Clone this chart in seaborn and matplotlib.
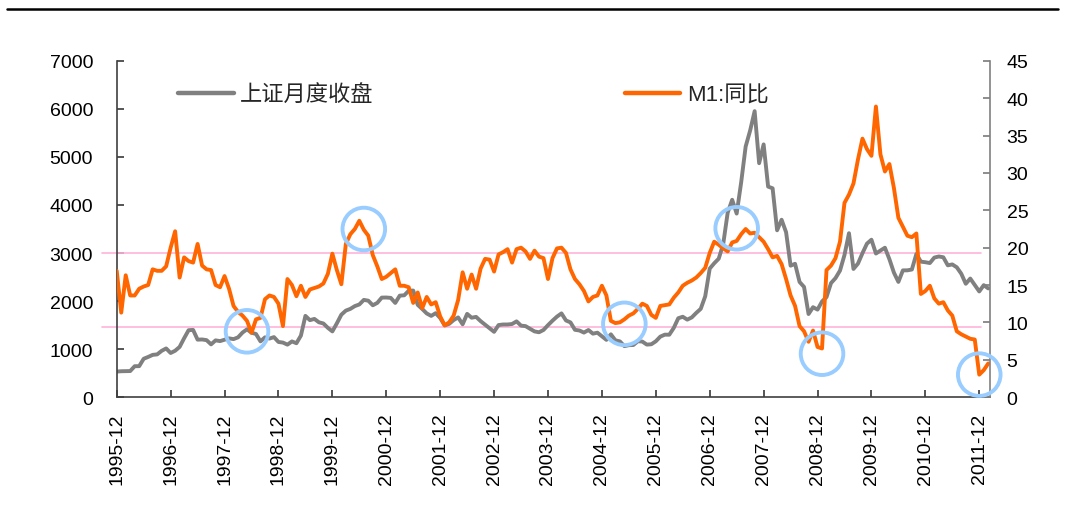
import matplotlib
matplotlib.use('Agg')
import matplotlib.pyplot as plt
from matplotlib.lines import Line2D
import numpy as np
import pandas as pd
import seaborn as sns

# mesi 1995-12 .. 2012-02
months = pd.period_range('1995-12', '2012-02', freq='M').strftime('%Y-%m').tolist()

# Shanghai composite, chiusura mensile (asse sinistro)
sh_close = [
    530,
    537, 538, 541, 642, 643, 797, 835, 878, 888, 962, 1012, 917,
    964, 1044, 1224, 1392, 1398, 1195, 1199, 1185, 1097, 1180, 1165, 1194,
    1222, 1206, 1243, 1343, 1411, 1339, 1313, 1159, 1243, 1218, 1248, 1147,
    1134, 1091, 1158, 1121, 1280, 1690, 1601, 1627, 1557, 1532, 1441, 1367,
    1535, 1715, 1800, 1836, 1894, 1928, 2023, 2007, 1911, 1961, 2071, 2073,
    2065, 1960, 2112, 2119, 2214, 2218, 1920, 1834, 1741, 1690, 1747, 1646,
    1491, 1524, 1603, 1658, 1515, 1732, 1652, 1669, 1581, 1507, 1434, 1358,
    1499, 1511, 1511, 1521, 1576, 1487, 1477, 1421, 1367, 1349, 1397, 1497,
    1590, 1675, 1742, 1595, 1555, 1400, 1386, 1342, 1396, 1320, 1340, 1266,
    1191, 1306, 1181, 1159, 1060, 1080, 1083, 1162, 1155, 1092, 1099, 1161,
    1258, 1299, 1298, 1440, 1641, 1672, 1612, 1658, 1752, 1837, 2099, 2675,
    2786, 2881, 3183, 3841, 4109, 3821, 4471, 5218, 5552, 5955, 4871, 5262,
    4383, 4348, 3473, 3693, 3433, 2736, 2775, 2397, 2293, 1729, 1871, 1821,
    1991, 2082, 2373, 2477, 2633, 2959, 3412, 2668, 2779, 2996, 3195, 3277,
    2989, 3051, 3110, 2871, 2592, 2398, 2638, 2639, 2656, 2979, 2820, 2808,
    2791, 2905, 2928, 2911, 2743, 2762, 2702, 2568, 2359, 2468, 2333, 2199,
    2330, 2262,
]

# M1 crescita a/a in % (asse destro)
m1_yoy = [
    16.9,
    11.3, 16.3, 13.6, 13.6, 14.5, 14.8, 15.0, 17.1, 16.9, 16.9, 17.5, 20.0,
    22.2, 16.0, 18.7, 18.2, 18.0, 20.5, 17.6, 17.1, 17.0, 15.0, 14.7, 16.2,
    14.5, 12.2, 11.4, 10.9, 10.2, 8.6, 10.4, 10.6, 13.1, 13.6, 13.4, 12.5,
    9.5, 15.8, 15.0, 13.5, 14.9, 13.4, 14.4, 14.6, 14.8, 15.2, 16.5, 19.2,
    17.0, 15.1, 20.5, 21.8, 22.5, 23.6, 22.4, 21.6, 19.0, 17.5, 15.8, 16.1,
    16.6, 17.1, 14.9, 14.9, 14.7, 12.6, 14.0, 11.9, 13.4, 12.4, 12.7, 10.8,
    9.6, 10.0, 10.9, 13.0, 16.7, 14.5, 16.4, 14.5, 17.2, 18.5, 18.4, 16.8,
    19.1, 19.4, 19.8, 18.0, 19.8, 20.0, 19.5, 18.5, 19.6, 18.8, 18.6, 15.8,
    18.6, 19.9, 20.0, 19.3, 17.1, 15.8, 15.1, 14.2, 12.8, 13.4, 13.6, 14.9,
    13.6, 10.2, 9.9, 10.0, 10.4, 10.9, 11.2, 11.8, 12.5, 12.2, 11.0, 10.6,
    12.2, 12.3, 12.4, 13.3, 14.0, 14.9, 15.3, 15.6, 16.0, 16.6, 17.3, 19.3,
    20.8, 20.4, 19.9, 19.5, 20.7, 20.9, 21.8, 22.5, 21.9, 22.0, 21.4, 20.8,
    19.8, 18.7, 18.9, 17.8, 15.8, 13.6, 12.2, 9.5, 8.8, 7.4, 8.9, 6.7,
    6.5, 17.0, 17.6, 18.6, 20.8, 26.0, 27.1, 28.6, 31.8, 34.6, 33.2, 32.3,
    38.9, 32.5, 30.2, 31.2, 28.0, 24.0, 22.8, 21.6, 21.4, 21.9, 13.8, 14.2,
    14.9, 13.2, 12.5, 12.7, 11.6, 10.9, 8.8, 8.4, 8.1, 7.8, 7.7, 3.0,
    3.6, 4.5,
]

# cerchi di evidenza (mese, livello M1)
circle_months = ['1998-05', '2000-07', '2005-05', '2007-06', '2009-01', '2011-12']
circle_m1 = [8.8, 22.5, 9.8, 22.6, 5.8, 3.0]

# linee guida rosa (asse sinistro)
guide_levels = [3000, 1465]

label_close = '上证月度收盘'
label_m1 = 'M1:同比'

sns.set_theme(style='white')
plt.rcParams['font.family'] = ['Liberation Sans', 'Noto Sans CJK SC']

df = pd.DataFrame({'idx': np.arange(len(months)), 'month': months,
                   'close': sh_close, 'm1': m1_yoy})

fig = plt.figure(figsize=(10.68, 5.06), dpi=100)
ax = fig.add_axes([0.1093, 0.2134, 0.8177, 0.6641])
ax2 = ax.twinx()

for lvl in guide_levels:
    ax.axhline(lvl, xmin=-0.017, xmax=0.99, color='#FFB3D9', lw=1.2, clip_on=False, zorder=1)

sns.lineplot(data=df, x='idx', y='close', ax=ax, color='#808080', linewidth=2.8, legend=False)
sns.lineplot(data=df, x='idx', y='m1', ax=ax2, color='#FF6600', linewidth=2.8, legend=False)

cx = [months.index(m) for m in circle_months]
ax2.scatter(cx, circle_m1, s=940, facecolors='none', edgecolors='#99CCFF',
            linewidths=2.8, clip_on=False, zorder=5)

ax.set_xlim(0, 194.4)
ax.set_ylim(0, 7000)
ax2.set_ylim(0, 45)
ax.set_xticks(range(0, len(months), 12))
ax.set_xticklabels(months[::12], rotation=90)
ax.set_yticks(range(0, 7001, 1000))
ax2.set_yticks(range(0, 46, 5))
ax.set_xlabel('')
ax.set_ylabel('')
ax2.set_ylabel('')

ax.tick_params(axis='x', bottom=True, direction='in', length=5, pad=11, labelsize=14,
               color='#404040', labelcolor='black')
ax.tick_params(axis='y', left=True, direction='in', length=5, pad=17, labelsize=14,
               color='#404040', labelcolor='black')
ax2.tick_params(axis='y', right=True, direction='in', length=5, pad=12, labelsize=14,
                color='#808080', labelcolor='black')

for s in ['top', 'right']:
    ax.spines[s].set_visible(False)
for s in ['top', 'left', 'bottom']:
    ax2.spines[s].set_visible(False)
ax.spines['left'].set_color('#404040')
ax.spines['bottom'].set_color('#404040')
ax2.spines['right'].set_color('#808080')
for sp in [ax.spines['left'], ax.spines['bottom'], ax2.spines['right']]:
    sp.set_linewidth(1.2)

handles = [Line2D([], [], color='#808080', lw=3.2), Line2D([], [], color='#FF6600', lw=3.2)]
ax2.legend(handles, [label_close, label_m1], ncol=2, frameon=False, loc='upper left',
           bbox_to_anchor=(0.0702, 0.93), borderpad=0, borderaxespad=0,
           handlelength=2.5, handletextpad=0.3, columnspacing=11.3, fontsize=16)

# linea nera in alto
fig.add_artist(Line2D([7 / 1068, 1058 / 1068], [1 - 10 / 506] * 2, color='black', lw=1.8))

fig.savefig('out.png', dpi=100)
